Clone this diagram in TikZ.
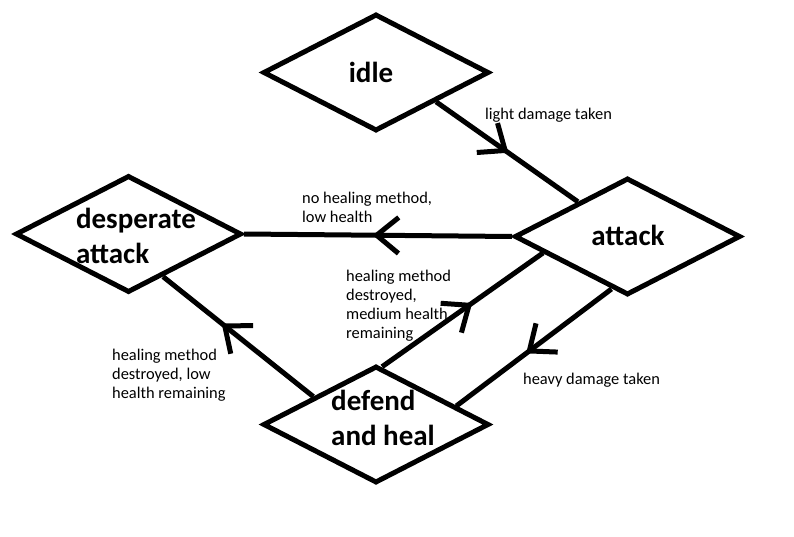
\documentclass[tikz,border=0pt]{standalone}
\usepackage{fontspec}
\setmainfont{Carlito}
\usetikzlibrary{shapes.geometric,arrows.meta,decorations.markings}

\tikzset{
  state/.style={draw, diamond, line width=5pt, minimum width=226pt, minimum height=117pt, inner sep=0pt},
  statename/.style={align=left, inner sep=0pt, font=\bfseries\fontsize{29}{35}\selectfont},
  edgetext/.style={align=left, anchor=west, inner sep=0pt, font=\fontsize{16.4}{19}\selectfont},
  link/.style={line width=5pt},
  midarrow/.style={postaction={decorate, decoration={markings,
    mark=at position #1 with {\arrow[line width=5pt]{Straight Barb[length=22pt, width=36pt]}}}}}
}

\begin{document}
\begin{tikzpicture}[x=1pt, y=-1pt]

\useasboundingbox (0,0) rectangle (794,537);

\node [state] (idle) at (376,72.5) {};
\node [state] (attack) at (627.5,236.5) {};
\node [state] (desperate) at (128.5,234) {};
\node [state] (defend) at (376,424.5) {};

\node [statename] (idlename) at (371,72) {idle};
\node [statename] (attackname) at (628,235) {attack};
\node [statename] (desperatename) at (136,236) {desperate\\attack};
\node [statename] (defendname) at (383,418) {defend\\and heal};

\draw [link, midarrow=0.51] (idle.-26.6) -- (attack.145.9);
\draw [link, midarrow=0.52] (attack.west) -- (desperate.east);
\draw [link, midarrow=0.61] (defend.156.4) -- (desperate.-51.4);
\draw [link, midarrow=0.56] (defend.84.9) -- (attack.-169.8);
\draw [link, midarrow=0.55] (attack.-107.7) -- (defend.13.4);

\node [edgetext] (lighttext) at (485,115) {light damage taken};
\node [edgetext] (lowtext) at (302,207.5) {no healing method,\\low health};
\node [edgetext] (mediumtext) at (346,305.5) {healing method\\destroyed,\\medium health\\remaining};
\node [edgetext] (destroyedtext) at (112,375) {healing method\\destroyed, low\\health remaining};
\node [edgetext] (heavytext) at (523,380) {heavy damage taken};

\end{tikzpicture}
\end{document}
